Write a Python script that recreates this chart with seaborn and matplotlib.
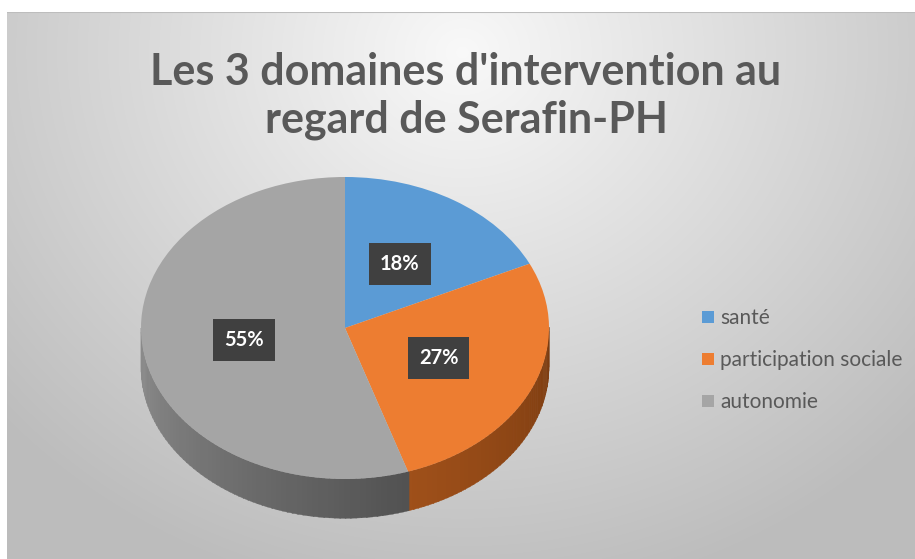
import numpy as np
import matplotlib
matplotlib.use("Agg")
import matplotlib.pyplot as plt
import seaborn as sns
from matplotlib.patches import Polygon

# ---- data ----
categories = ["santé", "participation sociale", "autonomie"]
values = [18, 27, 55]
title = "Les 3 domaines d'intervention au\nregard de Serafin-PH"

sns.set_theme(style="white")
plt.rcParams["font.family"] = ["Lato", "DejaVu Sans"]

colors = ["#5B9BD5", "#ED7D31", "#A5A5A5"]
side_light = ["#3a6f9e", "#a8551c", "#8e8e8e"]
side_dark = ["#2a5276", "#7c3c10", "#4f4f4f"]

W, H = 915, 559
fig = plt.figure(figsize=(W / 100, H / 100), dpi=100)
fig.patch.set_facecolor("white")

# background gradient chart area
bx0, by0 = 7, 12
bg = fig.add_axes([bx0 / W, 0, (W - bx0) / W, (H - by0) / H])
yy, xx = np.mgrid[0:H - by0, 0:W - bx0]
d = np.sqrt(((xx - 455) / 600.0) ** 2 + ((yy - 40) / 540.0) ** 2)
g = np.clip(0.975 - 0.23 * d, 0.74, 0.98)
bg.imshow(np.dstack([g, g, g]), aspect="auto", extent=[0, 1, 0, 1], origin="upper")
bg.axhline(1, color="#bdbdbd", lw=1.5)
bg.set_axis_off()

# pie axes: center (345, 328) px, rx=204, ry=151
cx, cy, rx, ry = 345, 328, 204, 151
xl = (-1.25, 1.25)
yl = (-1.5, 1.25)
left = cx - 1.25 * rx
axw = 2.5 * rx
top = cy - yl[1] * ry
axh = (yl[1] - yl[0]) * ry
ax = fig.add_axes([left / W, 1 - (top + axh) / H, axw / W, axh / H])

wedges, texts, autotexts = ax.pie(
    values, colors=colors, startangle=90, counterclock=False,
    autopct=lambda p: f"{p:.0f}%", pctdistance=0.5,
    wedgeprops=dict(edgecolor="none", linewidth=0, zorder=5),
    textprops=dict(color="white", fontsize=14.5, fontweight="bold"),
)
for t in autotexts:
    t.set_zorder(10)
    t.set_bbox(dict(boxstyle="square,pad=0.55", facecolor="#404040", edgecolor="none"))

# 3D side walls
depth = 0.26
for i, w in enumerate(wedges):
    a1, a2 = w.theta1, w.theta2
    for shift in (0, -360, 360):
        lo, hi = max(a1 + shift, -180), min(a2 + shift, 0)
        if hi <= lo:
            continue
        steps = np.arange(lo, hi, 1.5)
        steps = np.append(steps, hi)
        for s0, s1 in zip(steps[:-1], steps[1:]):
            mid = (s0 + s1) / 2
            frac = (mid + 180) / 180.0  # 0 at left, 1 at right
            c0 = np.array(matplotlib.colors.to_rgb(side_light[i]))
            c1 = np.array(matplotlib.colors.to_rgb(side_dark[i]))
            tt = np.clip(frac * 1.6, 0, 1) if i == 2 else np.clip((frac - 0.5) * 2, 0, 1)
            col = c0 * (1 - tt) + c1 * tt
            th = np.radians(np.linspace(s0, s1 + 0.3, 4))
            xs = np.cos(th)
            ys = np.sin(th)
            pts = np.concatenate([np.c_[xs, ys], np.c_[xs[::-1], ys[::-1] - depth]])
            ax.add_patch(Polygon(pts, closed=True, facecolor=col, edgecolor=col, lw=0.3, zorder=2))

ax.set_aspect("auto")
ax.set_xlim(*xl)
ax.set_ylim(*yl)
ax.set_axis_off()

# title
fig.text(466 / W, 1 - 96 / H, title, ha="center", va="center", fontsize=31,
         fontweight="bold", color="#595959", linespacing=1.2)

# legend
fig.legend(wedges, categories, loc="upper left", bbox_to_anchor=(692 / W, 1 - 298 / H),
           frameon=False, fontsize=15, handlelength=0.55, handleheight=0.55,
           handletextpad=0.3, labelspacing=1.05, borderpad=0, labelcolor="#595959")

fig.savefig("out.png", dpi=100)
